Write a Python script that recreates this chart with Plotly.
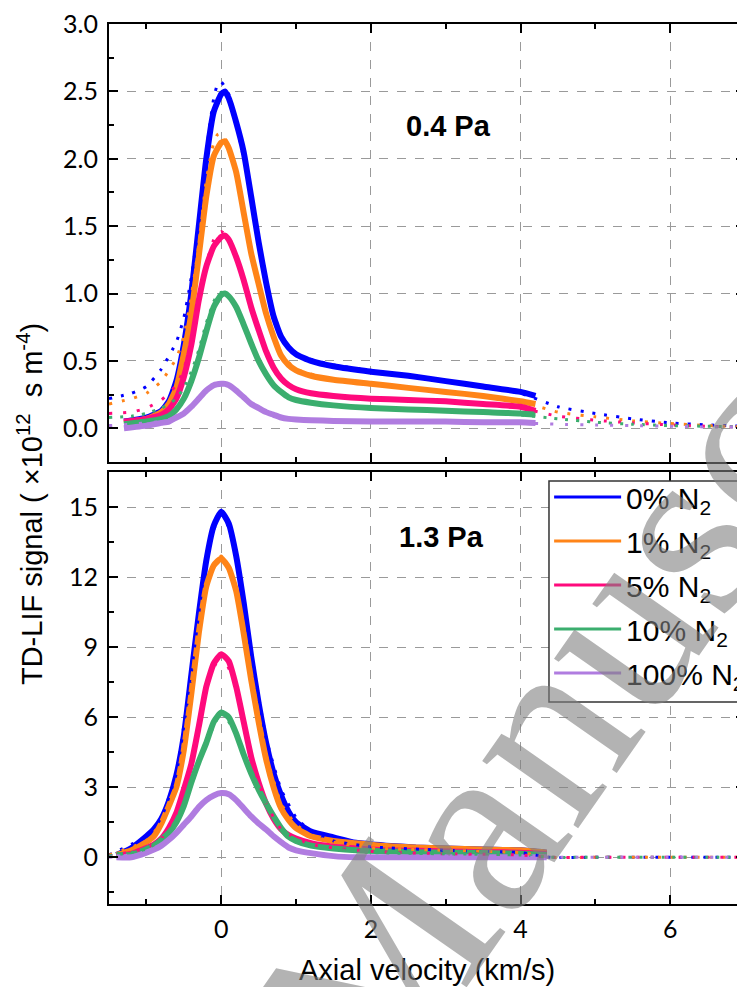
import plotly.graph_objects as go

# ---------------- data ----------------
labels = ["0% N<sub>2</sub>", "1% N<sub>2</sub>", "5% N<sub>2</sub>", "10% N<sub>2</sub>", "100% N<sub>2</sub>"]
colors = ["#0000FF", "#FF8418", "#FF0A7C", "#3BAE6E", "#B07CE0"]

# top panel (0.4 Pa) measured data
x_top = [-1.3, -1.0, -0.8, -0.7, -0.6, -0.5, -0.4, -0.3, -0.2, -0.1, 0.0, 0.05, 0.1, 0.2, 0.3,
         0.4, 0.5, 0.6, 0.7, 0.8, 0.9, 1.0, 1.2, 1.5, 2.0, 2.5, 3.0, 3.5, 4.0, 4.2]
top_0 = [0.05, 0.08, 0.13, 0.2, 0.35, 0.62, 1.0, 1.5, 2.0, 2.35, 2.48, 2.5, 2.45, 2.27, 2.05,
         1.72, 1.38, 1.08, 0.83, 0.68, 0.6, 0.55, 0.5, 0.46, 0.42, 0.39, 0.35, 0.31, 0.27, 0.24]
top_1 = [0.04, 0.07, 0.12, 0.18, 0.3, 0.55, 0.85, 1.28, 1.72, 2.02, 2.12, 2.13, 2.08, 1.9, 1.6,
         1.3, 1.07, 0.85, 0.68, 0.54, 0.47, 0.43, 0.39, 0.36, 0.33, 0.3, 0.27, 0.24, 0.2, 0.18]
top_5 = [0.05, 0.07, 0.1, 0.14, 0.22, 0.38, 0.62, 0.95, 1.2, 1.35, 1.42, 1.43, 1.4, 1.27, 1.1,
         0.9, 0.73, 0.57, 0.45, 0.37, 0.32, 0.29, 0.26, 0.24, 0.22, 0.21, 0.2, 0.18, 0.16, 0.13]
top_10 = [0.03, 0.05, 0.07, 0.09, 0.14, 0.22, 0.35, 0.52, 0.72, 0.9, 0.99, 1.0, 0.98, 0.9, 0.77,
          0.63, 0.5, 0.4, 0.32, 0.27, 0.23, 0.21, 0.19, 0.17, 0.15, 0.14, 0.13, 0.12, 0.11, 0.1]
top_100 = [0.0, 0.02, 0.04, 0.05, 0.08, 0.11, 0.16, 0.22, 0.28, 0.32, 0.33, 0.33, 0.32, 0.28, 0.23,
           0.18, 0.15, 0.12, 0.1, 0.08, 0.07, 0.065, 0.06, 0.055, 0.05, 0.05, 0.05, 0.045, 0.045, 0.04]

# top panel fits
x_top_fit = [-1.5, -1.2, -1.0, -0.8, -0.6, -0.5, -0.4, -0.3, -0.2, -0.1, -0.05, 0.0, 0.1, 0.2, 0.3,
             0.4, 0.5, 0.6, 0.7, 0.8, 1.0, 1.5, 2.0, 2.5, 3.0, 3.5, 4.0, 4.5, 5.0, 5.5, 6.0, 6.5, 7.0]
fit_top_0 = [0.22, 0.26, 0.31, 0.44, 0.64, 0.82, 1.12, 1.52, 2.05, 2.45, 2.55, 2.57, 2.48, 2.27, 2.0,
             1.7, 1.38, 1.08, 0.84, 0.68, 0.55, 0.47, 0.43, 0.39, 0.35, 0.31, 0.26, 0.16, 0.11, 0.07, 0.04, 0.025, 0.015]
fit_top_1 = [0.18, 0.22, 0.26, 0.35, 0.52, 0.68, 0.98, 1.36, 1.84, 2.12, 2.18, 2.19, 2.1, 1.9, 1.62,
             1.32, 1.08, 0.86, 0.68, 0.55, 0.44, 0.36, 0.33, 0.3, 0.27, 0.24, 0.2, 0.12, 0.085, 0.055, 0.035, 0.02, 0.01]
fit_top_5 = [0.11, 0.12, 0.15, 0.21, 0.32, 0.44, 0.65, 0.95, 1.22, 1.4, 1.45, 1.46, 1.42, 1.28, 1.1,
             0.9, 0.72, 0.57, 0.45, 0.37, 0.29, 0.24, 0.22, 0.21, 0.2, 0.18, 0.15, 0.09, 0.06, 0.04, 0.025, 0.015, 0.01]
fit_top_10 = [0.08, 0.09, 0.11, 0.15, 0.22, 0.3, 0.42, 0.58, 0.78, 0.94, 0.99, 1.01, 0.98, 0.9, 0.77,
              0.63, 0.5, 0.4, 0.32, 0.27, 0.21, 0.17, 0.15, 0.14, 0.13, 0.12, 0.1, 0.07, 0.045, 0.03, 0.02, 0.015, 0.01]
fit_top_100 = [0.02, 0.03, 0.04, 0.05, 0.08, 0.11, 0.16, 0.22, 0.28, 0.32, 0.33, 0.335, 0.32, 0.28, 0.23,
               0.18, 0.15, 0.12, 0.1, 0.08, 0.065, 0.055, 0.05, 0.05, 0.05, 0.045, 0.04, 0.03, 0.025, 0.02, 0.015, 0.01, 0.01]

# bottom panel (1.3 Pa) measured data
x_bot = [-1.4, -1.2, -1.0, -0.9, -0.8, -0.7, -0.6, -0.5, -0.4, -0.3, -0.2, -0.1, 0.0, 0.1, 0.2, 0.3,
         0.4, 0.5, 0.6, 0.7, 0.8, 0.9, 1.0, 1.2, 1.5, 1.8, 2.2, 2.6, 3.0, 3.5, 4.0, 4.35]
bot_0 = [0.1, 0.4, 0.9, 1.2, 1.65, 2.4, 3.5, 5.2, 7.8, 10.4, 12.7, 14.2, 14.8, 14.3, 12.9, 10.9,
         8.6, 6.6, 4.9, 3.6, 2.65, 1.95, 1.5, 1.1, 0.85, 0.62, 0.5, 0.42, 0.38, 0.33, 0.3, 0.2]
bot_1 = [0.1, 0.3, 0.65, 0.9, 1.45, 2.2, 3.0, 4.6, 7.0, 9.6, 11.6, 12.5, 12.8, 12.4, 11.4, 9.6,
         7.6, 5.8, 4.2, 3.0, 2.1, 1.6, 1.25, 0.9, 0.7, 0.6, 0.48, 0.42, 0.38, 0.33, 0.3, 0.2]
bot_5 = [0.05, 0.15, 0.4, 0.55, 0.8, 1.25, 1.9, 2.9, 4.0, 5.6, 7.3, 8.3, 8.7, 8.4, 7.3, 5.8,
         4.3, 3.2, 2.3, 1.65, 1.2, 0.95, 0.8, 0.6, 0.45, 0.38, 0.3, 0.28, 0.25, 0.22, 0.2, 0.15]
bot_10 = [0.1, 0.1, 0.35, 0.5, 0.75, 1.05, 1.5, 2.2, 3.2, 4.1, 4.9, 5.8, 6.2, 6.0, 5.3, 4.4,
          3.6, 2.9, 2.3, 1.75, 1.25, 0.88, 0.7, 0.5, 0.38, 0.3, 0.25, 0.22, 0.2, 0.18, 0.15, 0.1]
bot_100 = [0.0, 0.0, 0.2, 0.33, 0.5, 0.75, 1.05, 1.4, 1.75, 2.15, 2.45, 2.65, 2.75, 2.7, 2.45, 2.1,
           1.75, 1.45, 1.19, 0.9, 0.65, 0.42, 0.3, 0.18, 0.05, 0.0, 0.0, 0.0, 0.0, 0.0, 0.0, 0.0]

# bottom panel fits
x_bot_fit = [-1.5, -1.0, -0.8, -0.6, -0.4, -0.2, 0.0, 0.2, 0.4, 0.6, 0.8, 1.0, 1.2, 1.5, 2.0,
             3.0, 4.0, 4.4, 5.0, 6.0, 7.0]
fit_bot_0 = [0.1, 0.9, 1.7, 3.6, 7.9, 12.8, 14.9, 13.0, 8.8, 5.1, 2.9, 1.7, 1.1, 0.7, 0.45,
             0.3, 0.2, 0.0, 0.0, 0.0, 0.0]
fit_bot_1 = [0.1, 0.7, 1.5, 3.1, 7.1, 11.7, 12.9, 11.5, 7.8, 4.4, 2.3, 1.4, 0.95, 0.65, 0.4,
             0.3, 0.2, 0.0, 0.0, 0.0, 0.0]
fit_bot_5 = [0.05, 0.4, 0.8, 1.9, 4.0, 7.3, 8.7, 7.3, 4.3, 2.3, 1.2, 0.8, 0.55, 0.4, 0.25,
             0.15, 0.1, 0.0, 0.0, 0.0, 0.0]
fit_bot_10 = [0.05, 0.35, 0.75, 1.5, 3.2, 4.9, 6.2, 5.3, 3.6, 2.3, 1.25, 0.7, 0.5, 0.35, 0.2,
              0.15, 0.1, 0.0, 0.0, 0.0, 0.0]
fit_bot_100 = [0.0, 0.2, 0.5, 1.05, 1.75, 2.45, 2.75, 2.45, 1.75, 1.19, 0.65, 0.3, 0.18, 0.05, 0.0,
               0.0, 0.0, 0.0, 0.0, 0.0, 0.0]

top_data = [top_0, top_1, top_5, top_10, top_100]
top_fits = [fit_top_0, fit_top_1, fit_top_5, fit_top_10, fit_top_100]
bot_data = [bot_0, bot_1, bot_5, bot_10, bot_100]
bot_fits = [fit_bot_0, fit_bot_1, fit_bot_5, fit_bot_10, fit_bot_100]

x_ticks = [0, 2, 4, 6]
top_y_ticks = [0.0, 0.5, 1.0, 1.5, 2.0, 2.5, 3.0]
bot_y_ticks = [0, 3, 6, 9, 12, 15]

# ---------------- figure ----------------
TICKFONT = "Lato"
SANS = "Liberation Sans"
dashes = ["3px,9px", "3px,10px", "3px,11px", "3px,8px", "3px,12px"]

fig = go.Figure()

for i in range(5):
    fig.add_trace(go.Scatter(x=x_top, y=top_data[i], mode="lines", xaxis="x2", yaxis="y2",
                             line=dict(color=colors[i], width=6, shape="spline", smoothing=0.5),
                             showlegend=False, hoverinfo="skip"))
for i in range(5):
    fig.add_trace(go.Scatter(x=x_top_fit, y=top_fits[i], mode="lines", xaxis="x2", yaxis="y2",
                             line=dict(color=colors[i], width=3, dash=dashes[i], shape="spline", smoothing=0.5),
                             showlegend=False, hoverinfo="skip"))
for i in range(5):
    fig.add_trace(go.Scatter(x=x_bot, y=bot_data[i], mode="lines", xaxis="x", yaxis="y",
                             line=dict(color=colors[i], width=6, shape="spline", smoothing=0.5),
                             showlegend=False, hoverinfo="skip"))
for i in range(5):
    fig.add_trace(go.Scatter(x=x_bot_fit, y=bot_fits[i], mode="lines", xaxis="x", yaxis="y",
                             line=dict(color=colors[i], width=3, dash=dashes[i], shape="spline", smoothing=0.4),
                             showlegend=False, hoverinfo="skip"))
# legend entries
for i in range(5):
    fig.add_trace(go.Scatter(x=[None], y=[None], mode="lines", xaxis="x", yaxis="y",
                             line=dict(color=colors[i], width=3), name=labels[i],
                             legendgroup="g%d" % i, showlegend=True))

axis_common = dict(
    showline=True, linecolor="black", linewidth=2, mirror="allticks",
    ticks="inside", ticklen=9, tickwidth=2, tickcolor="black",
    showgrid=True, gridcolor="#9a9a9a", griddash="dash", gridwidth=1,
    zeroline=False, ticklabeloverflow="allow",
    tickfont=dict(family=TICKFONT, size=25, color="black"),
)
minor_common = dict(ticks="inside", ticklen=5, tickwidth=2, tickcolor="black", showgrid=False)

fig.update_layout(
    width=745, height=987,
    paper_bgcolor="white", plot_bgcolor="white",
    margin=dict(l=101, r=8, t=16, b=91, autoexpand=False),
    xaxis=dict(**axis_common, domain=[0, 1], anchor="y", range=[-1.5, 7],
               tickvals=x_ticks, ticklabelstandoff=2,
               minor=dict(dtick=1, tick0=0, **minor_common)),
    xaxis2=dict(**axis_common, domain=[0, 1], anchor="y2", matches="x", range=[-1.5, 7],
                tickvals=x_ticks, showticklabels=False,
                minor=dict(dtick=1, tick0=0, **minor_common)),
    yaxis=dict(**axis_common, domain=[0, 0.4909], anchor="x", range=[-2, 16.5],
               tickvals=bot_y_ticks, ticktext=[str(v) for v in bot_y_ticks], ticklabelstandoff=4,
               minor=dict(dtick=1.5, tick0=0, **minor_common)),
    yaxis2=dict(**axis_common, domain=[0.5023, 1], anchor="x2", range=[-0.25, 3.0005],
                tickvals=top_y_ticks, ticktext=["%.1f" % v for v in top_y_ticks], ticklabelstandoff=4,
                minor=dict(dtick=0.25, tick0=0, **minor_common)),
    legend=dict(x=0.692, y=0.4920, xanchor="left", yanchor="top",
                bgcolor="rgba(0,0,0,0)", borderwidth=0,
                font=dict(family=SANS, size=30, color="black"),
                itemwidth=67, tracegroupgap=2, itemclick=False),
    showlegend=True,
)

# legend frame (opaque white box with dark border)
fig.add_shape(type="rect", xref="paper", yref="paper", x0=0.6918, x1=1.2, y0=0.2295, y1=0.4807,
              line=dict(color="#333333", width=1.5), fillcolor="white", layer="above")

fig.add_annotation(text="<b>0.4 Pa</b>", x=3.04, y=2.24, xref="x2", yref="y2", showarrow=False,
                   font=dict(family=SANS, size=29, color="black"))
fig.add_annotation(text="<b>1.3 Pa</b>", x=2.94, y=13.7, xref="x", yref="y", showarrow=False,
                   font=dict(family=SANS, size=29, color="black"))

fig.add_annotation(text="TD-LIF signal ( \u00d710<sup>12</sup>  s m<sup>-4</sup>)",
                   x=-0.1242, y=0.4545, xref="paper", yref="paper", textangle=-90,
                   xanchor="center", yanchor="middle",
                   showarrow=False, font=dict(family=SANS, size=29, color="black"))
fig.add_annotation(text="Axial velocity (km/s)", x=0.5, y=-0.075, xref="paper", yref="paper",
                   xanchor="center", yanchor="middle",
                   showarrow=False, font=dict(family=SANS, size=29, color="black"))

# watermark
fig.add_annotation(text="Manuscript", x=0.8382, y=0.3603, xref="paper", yref="paper",
                   xanchor="center", yanchor="middle",
                   textangle=-55, showarrow=False,
                   font=dict(family="Liberation Serif", size=255, color="rgba(128,128,128,0.6)"))

fig.write_html("out.html")
